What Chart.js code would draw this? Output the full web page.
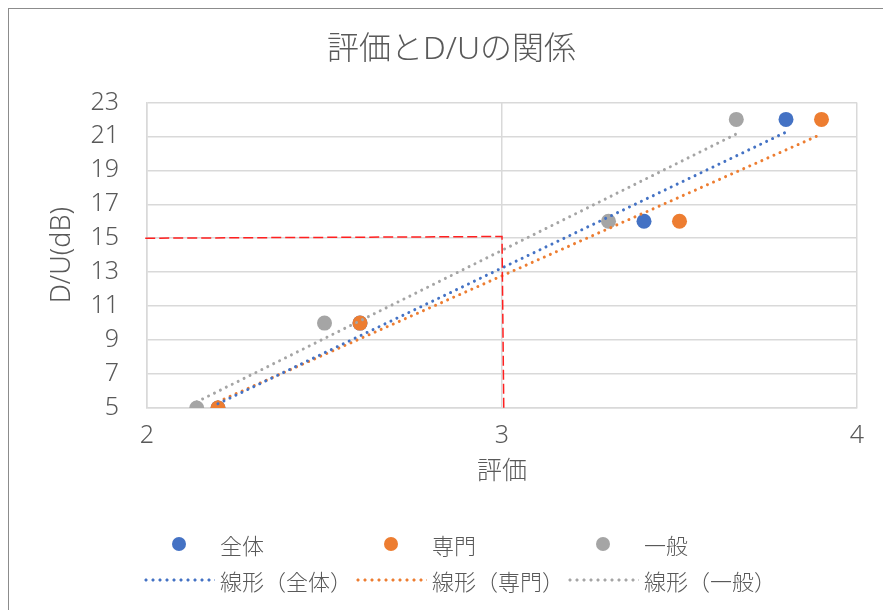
<!DOCTYPE html>
<html>
<head>
<meta charset="utf-8">
<script src="https://cdn.jsdelivr.net/npm/chart.js@4/dist/chart.umd.min.js"></script>
<style>
  html, body { margin: 0; padding: 0; background: #fff; overflow: hidden; }
  #wrap { position: relative; width: 883px; height: 610px; }
  #frame { position: absolute; left: 8px; top: 8px; width: 900px; height: 700px; border: 1px solid #8c8c8c; box-sizing: border-box; }
  #chart { position: absolute; left: 0; top: 0; }
  #legend { position: absolute; left: 143px; top: 526px; width: 640px;
            font-family: 'Noto Sans', 'Noto Sans CJK JP', sans-serif; font-weight: 300; font-size: 22px; color: #595959; }
  .row { display: flex; height: 36px; align-items: center; }
  .item { width: 212px; display: flex; align-items: center; }
  .sym { width: 72px; height: 16px; display: flex; align-items: center; justify-content: center; margin-right: 5px; }
  .dot { width: 14px; height: 14px; border-radius: 50%; }
  .dash { width: 72px; height: 4px; background-size: 7px 4px; background-repeat: repeat-x; }
</style>
</head>
<body>
<div id="wrap">
  <div id="frame"></div>
  <canvas id="chart" width="883" height="610"></canvas>
  <div id="legend"></div>
</div>
<script>
// 評価 と D/U の値
const seriesNames = ['全体', '専門', '一般'];
const seriesColors = ['#4472C4', '#ED7D31', '#A5A5A5'];

const zentaiX = [2.2, 2.6, 3.4, 3.8];
const zentaiY = [5, 10, 16, 22];
const senmonX = [2.2, 2.6, 3.5, 3.9];
const senmonY = [5, 10, 16, 22];
const ippanX = [2.14, 2.5, 3.3, 3.66];
const ippanY = [5, 10, 16, 22];

// 線形近似の両端
const zentaiTrendX = [2.2, 3.8];
const zentaiTrendY = [5.25, 21.25];
const senmonTrendX = [2.2, 3.9];
const senmonTrendY = [5.37, 21.13];
const ippanTrendX = [2.14, 3.66];
const ippanTrendY = [5.36, 21.14];

// 赤の補助線
const guideX = [1.995, 3.0, 3.005];
const guideY = [15.0, 15.1, 4.95];

const xTicks = [2, 3, 4];
const yTicks = [5, 7, 9, 11, 13, 15, 17, 19, 21, 23];

const FONT = "'Noto Sans', 'Noto Sans CJK JP', sans-serif";
const TEXT = '#595959';
const GRID = '#D9D9D9';

const pts = (xs, ys) => xs.map((x, i) => ({ x, y: ys[i] }));

function pointSet(i, xs, ys, order) {
  return {
    label: seriesNames[i],
    data: pts(xs, ys),
    backgroundColor: seriesColors[i],
    borderColor: seriesColors[i],
    pointRadius: 7.5,
    pointBorderWidth: 0,
    showLine: false,
    order: order,
  };
}

function trendSet(i, xs, ys) {
  return {
    label: '線形（' + seriesNames[i] + '）',
    data: pts(xs, ys),
    borderColor: seriesColors[i],
    borderWidth: 3,
    borderDash: [0.01, 6.6],
    borderCapStyle: 'round',
    pointRadius: 0,
    showLine: true,
    fill: false,
    order: 1,
    trend: true,
  };
}

const datasets = [
  pointSet(0, zentaiX, zentaiY, 5),
  pointSet(1, senmonX, senmonY, 4),
  pointSet(2, ippanX, ippanY, 6),
  trendSet(0, zentaiTrendX, zentaiTrendY),
  trendSet(1, senmonTrendX, senmonTrendY),
  trendSet(2, ippanTrendX, ippanTrendY),
  {
    label: 'guide',
    data: pts(guideX, guideY),
    borderColor: '#FF2020',
    borderWidth: 1.5,
    borderDash: [10, 4],
    pointRadius: 0,
    showLine: true,
    fill: false,
    clip: false,
    order: 0,
    guide: true,
  },
];

const chart = new Chart(document.getElementById('chart'), {
  type: 'scatter',
  data: { datasets },
  options: {
    responsive: false,
    animation: false,
    layout: { padding: { left: 46, right: 26, top: 0, bottom: 110 } },
    plugins: {
      legend: { display: false },
      tooltip: { enabled: false },
      title: {
        display: true,
        text: '評価とD/Uの関係',
        color: TEXT,
        font: { family: FONT, size: 32, weight: 300 },
        padding: { top: 31, bottom: 33 },
      },
    },
    scales: {
      x: {
        type: 'linear',
        min: 2,
        max: 4,
        afterFit: (s) => { s.height = 92; },
        afterBuildTicks: (s) => { s.ticks = xTicks.map(v => ({ value: v })); },
        grid: { color: GRID, lineWidth: 1.5, drawTicks: false },
        border: { color: GRID, width: 1.5 },
        ticks: { color: TEXT, font: { family: FONT, size: 25, weight: 300 }, padding: 13 },
        title: {
          display: true,
          text: '評価',
          color: TEXT,
          font: { family: FONT, size: 25, weight: 300 },
          padding: { top: 0, bottom: 13 },
        },
      },
      y: {
        type: 'linear',
        min: 5,
        max: 23,
        afterFit: (s) => { s.width = 101; },
        afterBuildTicks: (s) => { s.ticks = yTicks.map(v => ({ value: v })); },
        grid: { color: GRID, lineWidth: 1.5, drawTicks: false },
        border: { color: GRID, width: 1.5 },
        ticks: { color: TEXT, font: { family: FONT, size: 25, weight: 300 }, padding: 28, autoSkip: false },
        title: {
          display: true,
          text: 'D/U(dB)',
          color: TEXT,
          font: { family: FONT, size: 27, weight: 300 },
          padding: { top: 0, bottom: 0 },
        },
      },
    },
  },
});

// 凡例 (Excel風 3列)
function buildLegend(ch) {
  const box = document.getElementById('legend');
  const sets = ch.data.datasets.filter(d => !d.guide);
  const rows = [sets.filter(d => !d.trend), sets.filter(d => d.trend)];
  rows.forEach(list => {
    const row = document.createElement('div');
    row.className = 'row';
    list.forEach(d => {
      const item = document.createElement('div');
      item.className = 'item';
      const sym = document.createElement('span');
      sym.className = 'sym';
      const mark = document.createElement('span');
      if (d.trend) {
        mark.className = 'dash';
        mark.style.backgroundImage = `radial-gradient(circle at 3px 2px, ${d.borderColor} 1.3px, transparent 1.8px)`;
      } else {
        mark.className = 'dot';
        mark.style.background = d.backgroundColor;
      }
      sym.appendChild(mark);
      const txt = document.createElement('span');
      txt.textContent = d.label;
      item.appendChild(sym);
      item.appendChild(txt);
      row.appendChild(item);
    });
    box.appendChild(row);
  });
}
buildLegend(chart);
</script>
</body>
</html>
